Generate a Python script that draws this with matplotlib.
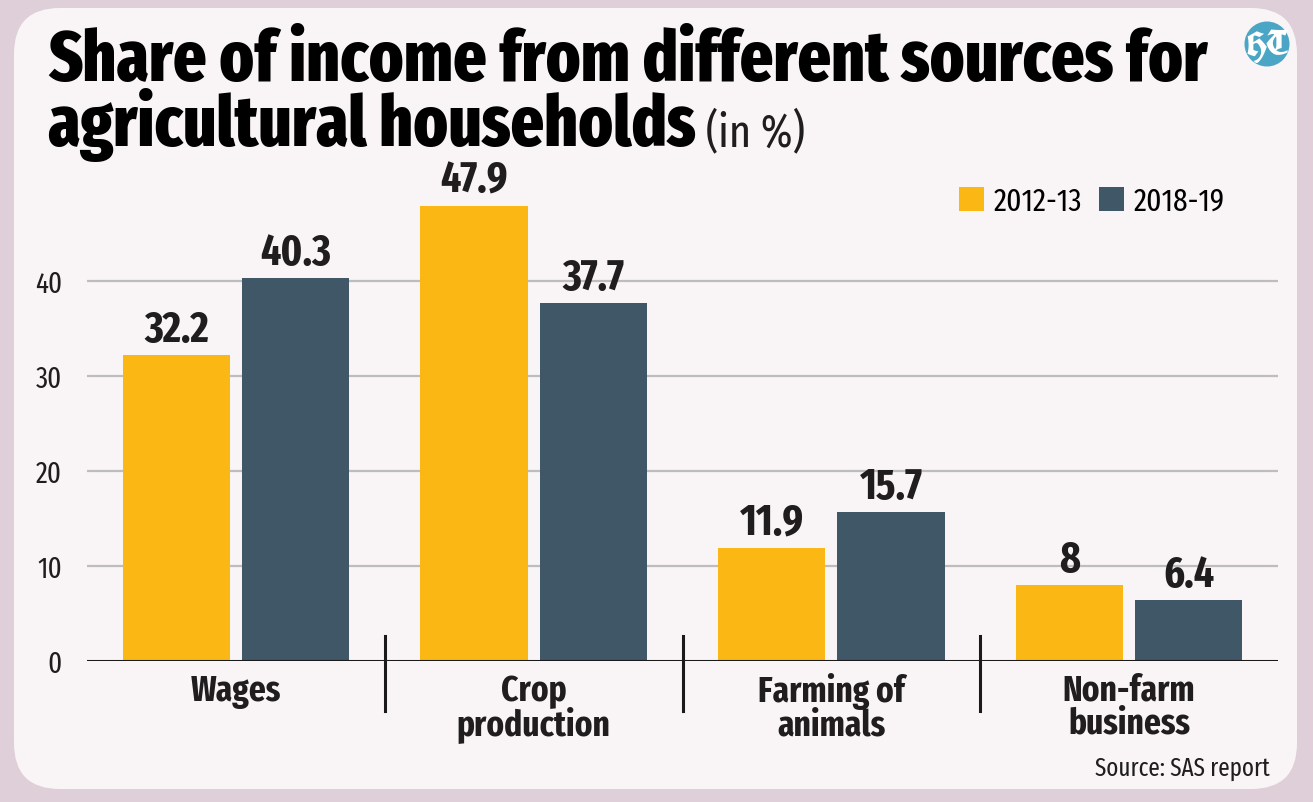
import matplotlib.pyplot as plt
from matplotlib.patches import FancyBboxPatch, Circle
import numpy as np

categories = ["Wages", "Crop\nproduction", "Farming of\nanimals", "Non-farm\nbusiness"]
share_2012 = [32.2, 47.9, 11.9, 8]
share_2018 = [40.3, 37.7, 15.7, 6.4]
series_names = ["2012-13", "2018-19"]
y_ticks = [0, 10, 20, 30, 40]

colors = {
    '2012': '#fbb714',  # yellow
    '2018': '#3f5766',  # slate
    'bg': '#dfcfd9',
    'card': '#f9f5f6',
    'grid': '#bdbdbd',
    'text': '#1f1d1e',
}
FONT = ['Fira Sans Extra Condensed', 'DejaVu Sans']

fig = plt.figure(figsize=(13.13, 8.03), dpi=100, facecolor=colors['bg'])

# card behind everything
card = FancyBboxPatch((14 / 1313, 13 / 803), 1283 / 1313, 781 / 803,
                      boxstyle="round,pad=0,rounding_size=0.035",
                      transform=fig.transFigure, facecolor=colors['card'],
                      edgecolor='none', zorder=-10, mutation_aspect=1313 / 803)
fig.patches.append(card)

ax = fig.add_axes([87 / 1313, 141 / 803, 1191 / 1313, 475 / 803])
ax.set_facecolor('none')

x = np.arange(len(categories))
w = 0.36
ax.bar(x - 0.2, share_2012, w, color=colors['2012'], zorder=3, label=series_names[0])
ax.bar(x + 0.2, share_2018, w, color=colors['2018'], zorder=3, label=series_names[1])

for xi, v in zip(x, share_2012):
    ax.text(xi - 0.2, v + 0.45, f"{v:g}", ha='center', va='bottom', fontsize=31,
            fontweight='bold', family=FONT, color=colors['text'], zorder=4)
for xi, v in zip(x, share_2018):
    ax.text(xi + 0.2, v + 0.45, f"{v:g}", ha='center', va='bottom', fontsize=31,
            fontweight='bold', family=FONT, color=colors['text'], zorder=4)

ax.set_xlim(-0.5, 3.5)
ax.set_ylim(0, 50)
ax.set_yticks(y_ticks)
ax.set_yticklabels([str(t) for t in y_ticks], family=FONT, fontsize=21, color=colors['text'])
ax.set_xticks(x)
ax.set_xticklabels(categories, family=FONT, fontsize=26, fontweight='bold',
                   color=colors['text'], linespacing=0.92, va='top')
ax.tick_params(axis='both', length=0)
ax.tick_params(axis='y', pad=18)
ax.tick_params(axis='x', pad=8)

for t in y_ticks[1:]:
    ax.axhline(t, color=colors['grid'], linewidth=1.6, zorder=1)
ax.axhline(0, color='#1a1a1a', linewidth=2.2, zorder=5)

for s in ax.spines.values():
    s.set_visible(False)

# group dividers
for d in [0.5, 1.5, 2.5]:
    ax.plot([d, d], [2.6, -5.3], color='#1a1a1a', linewidth=2.2, clip_on=False, zorder=5)

# legend
ax.legend(loc='upper right', bbox_to_anchor=(0.9555, 1.0), frameon=False, ncol=2,
          prop={'family': FONT, 'size': 23}, handlelength=0.78, handleheight=0.78,
          handletextpad=0.3, columnspacing=0.55, borderpad=0, borderaxespad=0)

# title
fig.text(48 / 1313, 1 - 146 / 803,
         "Share of income from different sources for\nagricultural households",
         fontsize=51, fontweight=800, family=FONT, color='black', va='baseline',
         linespacing=0.86)
fig.text(706 / 1313, 1 - 146 / 803, "(in %)", fontsize=33, family=FONT,
         color=colors['text'], va='baseline')

# logo (drawn in inches so it stays round)
fig.patches.append(Circle((12.67, (803 - 45) / 100), 0.225, transform=fig.dpi_scale_trans,
                          facecolor='#4ba6c6', edgecolor='none', zorder=2))
fig.text(1267 / 1313, 1 - 46 / 803, "HT", fontsize=24,
         family=['UnifrakturCook', 'DejaVu Serif'], color='white', ha='center', va='center')

fig.text(1270 / 1313, 1 - 776 / 803, "Source: SAS report", fontsize=18, family=FONT,
         color=colors['text'], ha='right', va='baseline')

fig.savefig("out.png", dpi=100, facecolor=fig.get_facecolor())
